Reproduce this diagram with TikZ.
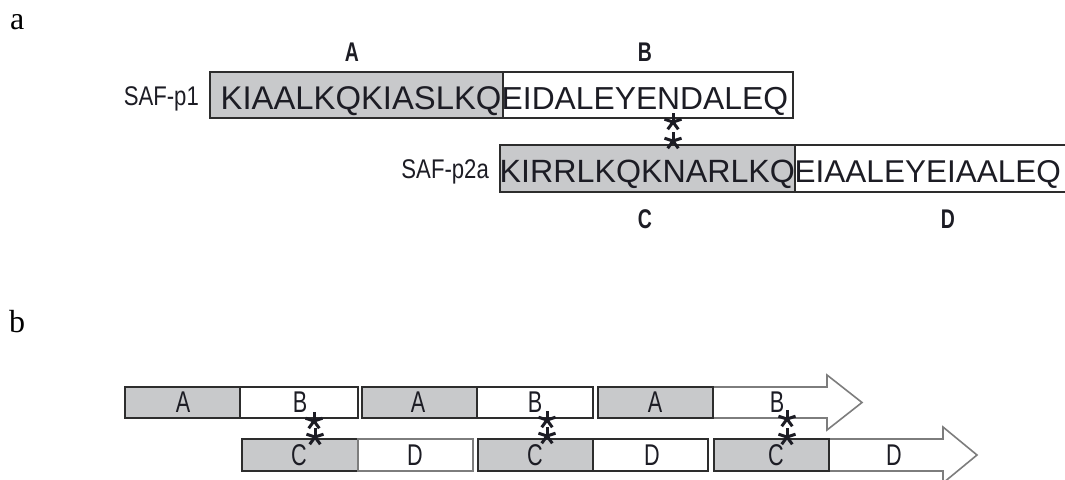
\documentclass[tikz,border=0pt]{standalone}
\usepackage{fontspec}
\setmainfont{Liberation Sans}
\newfontfamily\serifF{Liberation Serif}
\definecolor{boxgray}{RGB}{200,201,203}
\definecolor{edge}{RGB}{45,45,45}
\definecolor{arrowedge}{RGB}{125,125,125}
\definecolor{ink}{RGB}{28,28,36}
\tikzset{
  seqbox/.style={draw=edge, line width=1.6pt, inner sep=0pt, outer sep=0pt, anchor=north west},
  grayseq/.style={seqbox, fill=boxgray},
  whiteseq/.style={seqbox, fill=white},
  seqtext/.style={text=ink, inner sep=0pt, anchor=base west},
  saflabel/.style={font=\fontsize{27}{27}\selectfont, text=ink, inner sep=0pt, anchor=base east, xscale=0.82},
  seglabel/.style={font=\fontsize{27}{27}\selectfont\bfseries, text=ink, inner sep=0pt, xscale=0.72},
  blabel/.style={font=\fontsize{30}{30}\selectfont, text=ink, inner sep=0pt, xscale=0.72},
  panel/.style={font=\serifF\fontsize{32}{32}\selectfont, text=black, inner sep=0pt, anchor=base west},
  arrowbody/.style={draw=arrowedge, line width=1.6pt, fill=white, line join=miter},
  astar/.pic={\foreach \a in {90,18,-54,-126,162} \draw[line width=3pt, ink] (0,0) -- (\a:9pt);}
}
\begin{document}
\begin{tikzpicture}[x=1pt,y=-1pt]
\useasboundingbox (0,0) rectangle (1065,479);
\clip (0,0) rectangle (1065,479);

% ---------- panel a ----------
\node[panel] (pa) at (10,29) {a};
\node[seglabel] (lA) at (352,52) {A};
\node[seglabel] (lB) at (645,52) {B};
\node[seglabel] (lC) at (645,219) {C};
\node[seglabel] (lD) at (948,219) {D};

\node[grayseq, minimum width=293pt, minimum height=46pt] (p1A) at (210,72) {};
\node[whiteseq, minimum width=290pt, minimum height=46pt] (p1B) at (503,72) {};
\node[grayseq, minimum width=295pt, minimum height=47pt] (p2C) at (500,145) {};
\node[whiteseq, minimum width=290pt, minimum height=47pt] (p2D) at (795,145) {};

\node[saflabel] (s1) at (199,105) {SAF-p1};
\node[saflabel] (s2) at (489,178) {SAF-p2a};

\node[seqtext, font=\fontsize{32.8}{33}\selectfont] (t1) at (220.5,109) {KIAALKQKIASLKQ};
\node[seqtext, font=\fontsize{31.8}{32}\selectfont] (t2) at (501.5,109) {EIDALEYENDALEQ};
\node[seqtext, font=\fontsize{32.2}{32}\selectfont] (t3) at (499.5,182) {KIRRLKQKNARLKQ};
\node[seqtext, font=\fontsize{31.5}{32}\selectfont] (t4) at (794.5,182) {EIAALEYEIAALEQ};

\pic at (673,122) {astar};
\pic at (673,141) {astar};

% ---------- panel b ----------
\node[panel] (pb) at (9,332) {b};

% row 1
\draw[arrowbody] (713,387) -- (827,387) -- (827,375) -- (862,402.5) -- (827,430) -- (827,418) -- (713,418);
\node[grayseq, minimum width=115pt, minimum height=31pt] (bA1) at (125,387) {};
\node[whiteseq, minimum width=118pt, minimum height=31pt] (bB1) at (240,387) {};
\node[grayseq, minimum width=115pt, minimum height=31pt] (bA2) at (362,387) {};
\node[whiteseq, minimum width=116pt, minimum height=31pt] (bB2) at (477,387) {};
\node[grayseq, minimum width=115pt, minimum height=31pt] (bA3) at (598,387) {};

% row 2
\draw[arrowbody] (829,439) -- (943,439) -- (943,427) -- (977,455) -- (943,483) -- (943,471) -- (829,471);
\node[grayseq, minimum width=116pt, minimum height=32pt] (bC1) at (242,439) {};
\node[whiteseq, draw=arrowedge, minimum width=115pt, minimum height=32pt] (bD1) at (358,439) {};
\node[grayseq, minimum width=115pt, minimum height=32pt] (bC2) at (478,439) {};
\node[whiteseq, minimum width=115pt, minimum height=32pt] (bD2) at (593,439) {};
\node[grayseq, minimum width=115pt, minimum height=32pt] (bC3) at (714,439) {};

% labels
\node[blabel] (xA1) at (183,402.5) {A};
\node[blabel] (xB1) at (300,402.5) {B};
\node[blabel] (xA2) at (418,402.5) {A};
\node[blabel] (xB2) at (535,402.5) {B};
\node[blabel] (xA3) at (655,402.5) {A};
\node[blabel] (xB3) at (777,402.5) {B};
\node[blabel] (xC1) at (299,455) {C};
\node[blabel] (xD1) at (415,455) {D};
\node[blabel] (xC2) at (535,455) {C};
\node[blabel] (xD2) at (652,455) {D};
\node[blabel] (xC3) at (776,455) {C};
\node[blabel] (xD3) at (894,455) {D};

% stars
\pic at (314,421) {astar};
\pic at (315,437) {astar};
\pic at (547,420) {astar};
\pic at (547,436) {astar};
\pic at (787,419) {astar};
\pic at (787,437) {astar};
\end{tikzpicture}
\end{document}
